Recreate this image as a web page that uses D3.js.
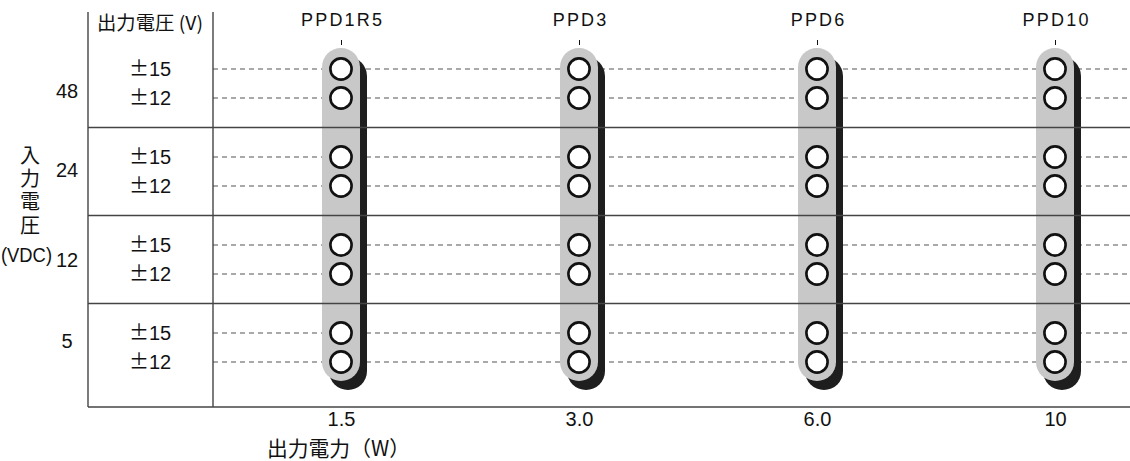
<!DOCTYPE html>
<html>
<head>
<meta charset="utf-8">
<script src="https://cdn.jsdelivr.net/npm/d3@7/dist/d3.min.js"></script>
<style>
  html, body { margin: 0; padding: 0; background: #fff; }
  svg { display: block; }
  .lat { font-family: "Liberation Sans", Arial, Helvetica, sans-serif; fill: #111; }
  .jp  { font-family: "Noto Sans CJK JP", "Noto Sans CJK SC", sans-serif; fill: #111; }
</style>
</head>
<body>
<svg id="chart" width="1130" height="461"></svg>
<script>
// ---- data ----
const models = ["PPD1R5", "PPD3", "PPD6", "PPD10"];
const outputPower = ["1.5", "3.0", "6.0", "10"];
const inputVoltages = ["48", "24", "12", "5"];
const outputVoltages = ["±15", "±12"];
// availability per model, rows: 48(±15,±12), 24(±15,±12), 12(±15,±12), 5(±15,±12)
const availPPD1R5 = [1, 1, 1, 1, 1, 1, 1, 1];
const availPPD3   = [1, 1, 1, 1, 1, 1, 1, 1];
const availPPD6   = [1, 1, 1, 1, 1, 1, 1, 1];
const availPPD10  = [1, 1, 1, 1, 1, 1, 1, 1];
const availability = [availPPD1R5, availPPD3, availPPD6, availPPD10];
const xTitle = "出力電力（W）";
const yTitle = "入力電圧";
const yUnit = "(VDC)";
const colTitle = "出力電圧 (V)";

// ---- layout ----
const svg = d3.select("#chart");
const leftX = 88, midX = 213, rightX = 1130, topY = 12, bottomY = 407;
const lineColor = "#444";

const x = d3.scalePoint().domain(outputPower).range([341, 1055]);
const xModel = d3.scalePoint().domain(models).range([341, 1055]);
const yGroup = d3.scaleBand().domain(inputVoltages).range([39.5, 391.5]);
const yInner = d3.scalePoint().domain(outputVoltages).range([-14.5, 14.5]);
const gCenter = g => yGroup(g) + yGroup.bandwidth() / 2;
const rowY = (g, o) => gCenter(g) + yInner(o);

const rows = [];
inputVoltages.forEach(g => outputVoltages.forEach(o => rows.push({ g, o, y: rowY(g, o) })));

// dashed lines (under pills)
svg.append("g").selectAll("line").data(rows).join("line")
  .attr("x1", midX).attr("x2", rightX)
  .attr("y1", d => d.y).attr("y2", d => d.y)
  .attr("stroke", "#555").attr("stroke-width", 1.1)
  .attr("stroke-dasharray", "5,4");

// pills
const pillW = 38, pillR = 19;
const pillTop = rowY(inputVoltages[0], outputVoltages[0]) - 21;
const pillBot = rowY(inputVoltages[inputVoltages.length - 1], outputVoltages[outputVoltages.length - 1]) + 19;
const pills = svg.append("g");
pills.selectAll("rect.sh").data(models).join("rect").attr("class", "sh")
  .attr("x", d => xModel(d) - pillW / 2 + 7).attr("y", pillTop + 9)
  .attr("width", pillW).attr("height", pillBot - pillTop)
  .attr("rx", pillR).attr("ry", pillR).attr("fill", "#1e1e1e");
pills.selectAll("rect.pl").data(models).join("rect").attr("class", "pl")
  .attr("x", d => xModel(d) - pillW / 2).attr("y", pillTop)
  .attr("width", pillW).attr("height", pillBot - pillTop)
  .attr("rx", pillR).attr("ry", pillR).attr("fill", "#c8c8c8");

// solid grid lines
const grid = svg.append("g").attr("stroke", lineColor).attr("stroke-width", 1.4);
grid.append("line").attr("x1", leftX).attr("x2", leftX).attr("y1", topY).attr("y2", bottomY);
grid.append("line").attr("x1", midX).attr("x2", midX).attr("y1", topY).attr("y2", bottomY);
grid.selectAll("line.sep").data(inputVoltages.slice(1)).join("line").attr("class", "sep")
  .attr("x1", leftX).attr("x2", rightX)
  .attr("y1", d => yGroup(d)).attr("y2", d => yGroup(d));
grid.append("line").attr("x1", leftX).attr("x2", rightX).attr("y1", bottomY).attr("y2", bottomY);

// circles
const circData = [];
models.forEach((m, i) => rows.forEach((r, j) => { if (availability[i][j]) circData.push({ m, y: r.y }); }));
svg.append("g").selectAll("circle").data(circData).join("circle")
  .attr("cx", d => xModel(d.m)).attr("cy", d => d.y).attr("r", 10.6)
  .attr("fill", "#fff").attr("stroke", "#111").attr("stroke-width", 2.6);

// top axis: model names
const topAxis = svg.append("g").attr("transform", `translate(0,45)`)
  .call(d3.axisTop(xModel).tickSize(5).tickSizeOuter(0).tickPadding(14));
topAxis.select(".domain").remove();
topAxis.selectAll(".tick line").attr("stroke", "#111").attr("stroke-width", 1);
topAxis.selectAll(".tick text").attr("class", "lat").attr("font-size", 18)
  .attr("letter-spacing", "2.2px").attr("dx", "1.1px").attr("fill", "#111");

// bottom axis: output power
const botAxis = svg.append("g").attr("transform", `translate(0,${bottomY})`)
  .call(d3.axisBottom(x).tickSize(0).tickSizeOuter(0).tickPadding(5));
botAxis.select(".domain").remove();
botAxis.selectAll(".tick text").attr("class", "lat").attr("font-size", 20).attr("fill", "#111");

// x title
svg.append("text").attr("class", "jp").attr("x", 267).attr("y", 456)
  .attr("font-size", 21).attr("textLength", 143).attr("lengthAdjust", "spacingAndGlyphs").text(xTitle);

// column header
svg.append("text").attr("class", "jp").attr("x", 97).attr("y", 30)
  .attr("font-size", 19).attr("textLength", 106).attr("lengthAdjust", "spacingAndGlyphs").text(colTitle);

// output voltage labels
const ovLab = svg.append("g").selectAll("text").data(rows).join("text")
  .attr("class", "lat").attr("x", 129).attr("y", d => d.y + 7).attr("font-size", 20);
ovLab.append("tspan").attr("class", "jp").style("font-feature-settings", "'fwid'").text(d => d.o.slice(0, 1));
ovLab.append("tspan").attr("class", "lat").text(d => d.o.slice(1));

// input voltage labels
const inNudge = [7, -2, 0, -7];
svg.append("g").selectAll("text").data(inputVoltages).join("text")
  .attr("class", "lat").attr("text-anchor", "middle").attr("font-size", 20)
  .attr("x", 67).attr("y", (d, i) => gCenter(d) + 7 + inNudge[i]).text(d => d);

// vertical y title (single vertical text)
svg.append("text").attr("class", "jp")
  .attr("x", 30).attr("y", 145)
  .style("writing-mode", "vertical-rl")
  .attr("font-size", 20).attr("letter-spacing", "3.4px").text(yTitle);
svg.append("text").attr("class", "lat").attr("x", 1).attr("y", 262)
  .attr("font-size", 20).attr("textLength", 51).attr("lengthAdjust", "spacingAndGlyphs").text(yUnit);
</script>
</body>
</html>
